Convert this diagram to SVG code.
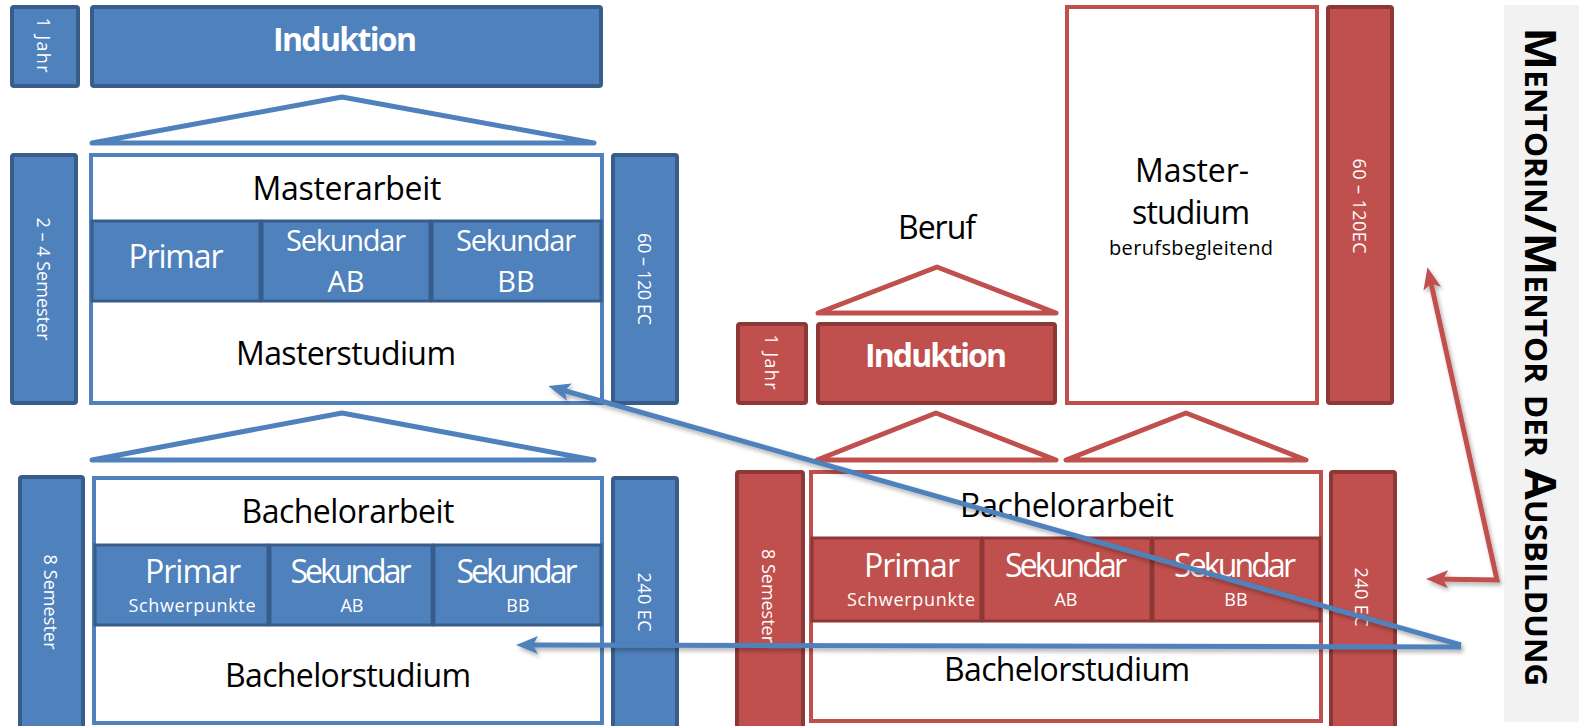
<svg xmlns="http://www.w3.org/2000/svg" width="1579" height="726" viewBox="0 0 1579 726">
<style>
text{font-family:"Open Sans","Noto Sans","Liberation Sans",sans-serif;text-anchor:middle}
.bc{fill:#4F81BD;stroke:#385D8A;stroke-width:4}
.bo{fill:#FFFFFF;stroke:#4F81BD;stroke-width:4}
.bcell{fill:#4F81BD;stroke:#385D8A;stroke-width:3}
.broof{fill:#FFFFFF;stroke:#4F81BD;stroke-width:5;stroke-linejoin:round;stroke-linecap:round}
.rc{fill:#C0504D;stroke:#8C3836;stroke-width:4}
.ro{fill:#FFFFFF;stroke:#C0504D;stroke-width:4}
.rcell{fill:#C0504D;stroke:#8C3836;stroke-width:3}
.rroof{fill:#FFFFFF;stroke:#C0504D;stroke-width:5;stroke-linejoin:round;stroke-linecap:round}
.big{font-size:32px;fill:#000}
.bigw{font-size:32px;fill:#FFFFFF}
.midw{font-size:29px;fill:#FFFFFF}
.bold{font-weight:bold}
.sm{font-size:18px;fill:#FFFFFF}
.vt{font-size:18px;fill:#FFFFFF;dominant-baseline:central}
.bl{fill:none;stroke:#4F81BD;stroke-width:5}
.rl{fill:none;stroke:#C0504D;stroke-width:5}
</style>
<defs>
<filter id="sh" x="-5%" y="-5%" width="110%" height="120%">
<feDropShadow dx="2" dy="3" stdDeviation="2" flood-color="#000" flood-opacity="0.3"/>
</filter>
<marker id="ab" markerUnits="userSpaceOnUse" markerWidth="22" markerHeight="18" viewBox="0 0 22 18" refX="15" refY="9" orient="auto">
<path d="M0,0 L22,9 L0,18 L5,9 z" fill="#4F81BD"/>
</marker>
<marker id="ar" markerUnits="userSpaceOnUse" markerWidth="22" markerHeight="18" viewBox="0 0 22 18" refX="15" refY="9" orient="auto-start-reverse">
<path d="M0,0 L22,9 L0,18 L5,9 z" fill="#C0504D"/>
</marker>
</defs>
<rect width="1579" height="726" fill="#FFFFFF"/>

<!-- Blue (left) -->
<g id="b-jahr"><rect class="bc" x="12" y="7" width="66" height="79" rx="2"/><text class="vt" transform="translate(44,45) rotate(90)" textLength="55">1 Jahr</text></g>
<g id="b-induktion"><rect class="bc" x="92" y="7" width="509" height="79" rx="2"/><text class="bigw bold" x="345" y="51" textLength="144">Induktion</text></g>
<g id="b-roof1"><polygon class="broof" points="92,143 342,97 594,143"/></g>
<g id="b-sem24"><rect class="bc" x="12" y="155" width="64" height="248" rx="2"/><text class="vt" transform="translate(44,279) rotate(90)" textLength="123">2 – 4  Semester</text></g>
<g id="b-master">
<rect class="bo" x="91" y="155" width="511" height="248"/>
<text class="big" x="347" y="200" textLength="189">Masterarbeit</text>
<rect class="bcell" x="92" y="221" width="168" height="80"/>
<rect class="bcell" x="262" y="221" width="168" height="80"/>
<rect class="bcell" x="432" y="221" width="169" height="80"/>
<text class="bigw" x="176" y="268" textLength="95">Primar</text>
<text class="midw" x="346" y="251" textLength="120">Sekundar</text>
<text class="midw" x="346" y="292">AB</text>
<text class="midw" x="516" y="251" textLength="120">Sekundar</text>
<text class="midw" x="516" y="292">BB</text>
<text class="big" x="346" y="365" textLength="220">Masterstudium</text>
</g>
<g id="b-ec60"><rect class="bc" x="613" y="155" width="64" height="248" rx="2"/><text class="vt" transform="translate(645,279) rotate(90)" textLength="92">60 – 120 EC</text></g>
<g id="b-roof2"><polygon class="broof" points="92,460 342,413 594,460"/></g>
<g id="b-sem8"><rect class="bc" x="20" y="477" width="63" height="254" rx="2"/><text class="vt" transform="translate(51,602) rotate(90)" textLength="95">8  Semester</text></g>
<g id="b-bachelor">
<rect class="bo" x="94" y="478" width="508" height="245"/>
<text class="big" x="348" y="523" textLength="213">Bachelorarbeit</text>
<rect class="bcell" x="95" y="545" width="173" height="80"/>
<rect class="bcell" x="270" y="545" width="162" height="80"/>
<rect class="bcell" x="434" y="545" width="167" height="80"/>
<text class="bigw" x="193" y="583" textLength="96">Primar</text>
<text class="sm" x="192" y="612" textLength="127">Schwerpunkte</text>
<text class="bigw" x="351" y="583" textLength="121">Sekundar</text>
<text class="sm" x="352" y="612">AB</text>
<text class="bigw" x="517" y="583" textLength="121">Sekundar</text>
<text class="sm" x="518" y="612">BB</text>
<text class="big" x="348" y="687" textLength="246">Bachelorstudium</text>
</g>
<g id="b-ec240"><rect class="bc" x="613" y="478" width="64" height="254" rx="2"/><text class="vt" transform="translate(645,602) rotate(90)" textLength="59">240  EC</text></g>

<!-- Red (right) -->
<g id="r-beruf"><text class="big" x="937" y="239" textLength="78">Beruf</text><polygon class="rroof" points="818,313 937,267 1056,313"/></g>
<g id="r-jahr"><rect class="rc" x="738" y="324" width="68" height="79" rx="2"/><text class="vt" transform="translate(772,362) rotate(90)" textLength="55">1 Jahr</text></g>
<g id="r-induktion"><rect class="rc" x="818" y="324" width="237" height="79" rx="2"/><text class="bigw bold" x="936" y="367" textLength="142">Induktion</text></g>
<g id="r-master">
<rect class="ro" x="1067" y="7" width="250" height="396"/>
<text class="big" x="1192" y="182" textLength="114">Master-</text>
<text class="big" x="1191" y="224" textLength="118">studium</text>
<text x="1191" y="255" style="font-size:20px;fill:#000" textLength="164">berufsbegleitend</text>
</g>
<g id="r-ec60"><rect class="rc" x="1328" y="7" width="64" height="396" rx="2"/><text class="vt" transform="translate(1360,206) rotate(90)" textLength="95">60 – 120EC</text></g>
<g id="r-roof1"><polygon class="rroof" points="817,460 936,413 1056,460"/></g>
<g id="r-roof2"><polygon class="rroof" points="1066,460 1186,413 1306,460"/></g>
<g id="r-sem8"><rect class="rc" x="737" y="472" width="66" height="259" rx="2"/><text class="vt" transform="translate(769,596) rotate(90)" textLength="94">8  Semester</text></g>
<g id="r-bachelor">
<rect class="ro" x="811" y="472" width="510" height="249"/>
<text class="big" x="1067" y="517" textLength="214">Bachelorarbeit</text>
<rect class="rcell" x="812" y="538" width="169" height="83"/>
<rect class="rcell" x="983" y="538" width="168" height="83"/>
<rect class="rcell" x="1153" y="538" width="167" height="83"/>
<text class="bigw" x="912" y="577" textLength="96">Primar</text>
<text class="sm" x="911" y="606" textLength="128">Schwerpunkte</text>
<text class="bigw" x="1066" y="577" textLength="122">Sekundar</text>
<text class="sm" x="1066" y="606">AB</text>
<text class="bigw" x="1235" y="577" textLength="122">Sekundar</text>
<text class="sm" x="1236" y="606">BB</text>
<text class="big" x="1067" y="681" textLength="246">Bachelorstudium</text>
</g>
<g id="r-ec240"><rect class="rc" x="1331" y="472" width="64" height="259" rx="2"/><text class="vt" transform="translate(1362,597) rotate(90)" textLength="59">240  EC</text></g>

<!-- Mentor panel -->
<g id="mentor">
<rect x="1504" y="5" width="75" height="717" fill="#F2F2F2"/>
<text transform="translate(1541,357) rotate(90)" style="font-size:43px;font-weight:bold;font-variant:small-caps;fill:#000;dominant-baseline:central" textLength="659" lengthAdjust="spacingAndGlyphs">Mentorin/Mentor der Ausbildung</text>
</g>

<!-- Connectors -->
<g id="connectors" filter="url(#sh)">
<path class="bl" d="M1461,645 L555,388" marker-end="url(#ab)"/>
<path class="bl" d="M1461,647 L523,645" marker-end="url(#ab)"/>
<path class="rl" d="M1429,274 L1497,580 L1433,579" marker-start="url(#ar)" marker-end="url(#ar)" stroke-linejoin="miter"/>
</g>
</svg>
